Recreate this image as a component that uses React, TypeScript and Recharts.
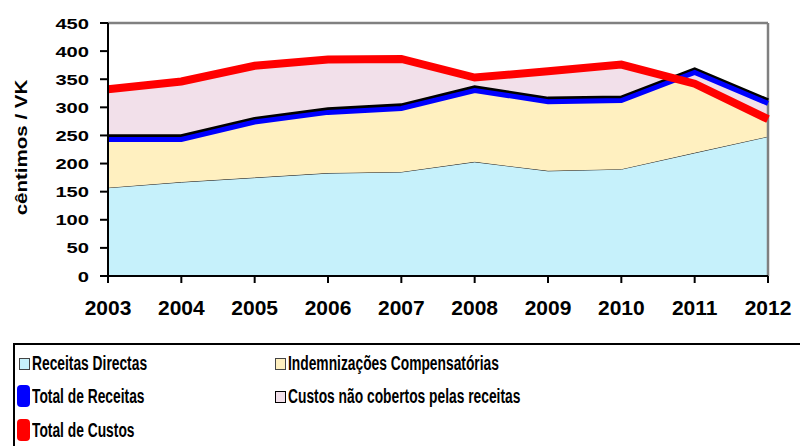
import { ComposedChart, Area, Line, XAxis, YAxis, ReferenceLine } from "recharts";

const years = [2003, 2004, 2005, 2006, 2007, 2008, 2009, 2010, 2011, 2012];
const receitasDirectas = [157, 167, 175, 183, 185, 203, 187, 190, 219, 248];
const totalReceitas = [243, 243, 274, 291, 298, 330, 310, 312, 362, 307];
const totalCustos = [332, 346, 374, 385, 386, 353, 364, 376, 342, 279];
const yTicks = [0, 50, 100, 150, 200, 250, 300, 350, 400, 450];

const FONT = "'Liberation Sans', Arial, sans-serif";

const data = years.map((year, i) => ({
  year,
  directas: receitasDirectas[i],
  indemnizacoes: totalReceitas[i] - receitasDirectas[i],
  naoCobertos: totalCustos[i] - totalReceitas[i],
  totalReceitas: totalReceitas[i],
  totalCustos: totalCustos[i],
}));

const YTick = ({ x, y, payload }: any) => (
  <g transform={`translate(${x},${y})`}>
    <text
      textAnchor="end"
      dy="0.36em"
      transform="scale(1.3,1)"
      fontSize={15.5}
      fontWeight="bold"
      fontFamily={FONT}
      fill="#000"
    >
      {payload.value}
    </text>
  </g>
);

const YTitle = (props: any) => {
  const vb = props.viewBox || { x: 0, y: 23, width: 108, height: 253 };
  const cx = vb.x + 26.5;
  const cy = vb.y + vb.height / 2 - 2;
  return (
    <text
      transform={`translate(${cx},${cy}) rotate(-90) scale(1.26,1)`}
      textAnchor="middle"
      fontSize={16.3}
      fontWeight="bold"
      fontFamily={FONT}
      fill="#000"
    >
      cêntimos / VK
    </text>
  );
};

const legendText = {
  fontFamily: FONT,
  fontWeight: "bold" as const,
  fontSize: 20,
  lineHeight: "20px",
  color: "#000",
  display: "inline-block",
  whiteSpace: "nowrap" as const,
  transform: "scaleX(0.69)",
  transformOrigin: "left center",
};

function Swatch({ fill, border }: { fill: string; border: string }) {
  return <div style={{ position: "absolute", width: 9, height: 10, top: 5, left: 4, background: fill, border: `1.5px solid ${border}` }} />;
}

function Pill({ color }: { color: string }) {
  return <div style={{ position: "absolute", width: 13, height: 22, top: -1, left: 2, background: color, borderRadius: 4 }} />;
}

function Item({ left, top, icon, label }: { left: number; top: number; icon: any; label: string }) {
  return (
    <div style={{ position: "absolute", left, top, height: 20 }}>
      {icon}
      <span style={{ ...legendText, position: "absolute", left: 17, top: 0 }}>{label}</span>
    </div>
  );
}

export default function App() {
  return (
    <div style={{ position: "absolute", left: 0, top: 0, width: 800, height: 446, overflow: "hidden", background: "#fff" }}>
      <style>{`.shift-up { transform: translateY(-2.6px); }`}</style>
      <ComposedChart width={800} height={321} data={data} margin={{ top: 23, right: 32, bottom: 0, left: 0 }}>
        <XAxis
          dataKey="year"
          type="number"
          domain={[2003, 2012]}
          ticks={years}
          interval={0}
          tickSize={7}
          tickMargin={17}
          height={45}
          axisLine={{ stroke: "#000", strokeWidth: 2 }}
          tickLine={{ stroke: "#000", strokeWidth: 2 }}
          tick={{ fontSize: 21, fontWeight: "bold", fontFamily: FONT, fill: "#000" }}
        />
        <YAxis
          domain={[0, 450]}
          ticks={yTicks}
          interval={0}
          width={108}
          tickSize={8}
          tickMargin={11}
          axisLine={{ stroke: "#000", strokeWidth: 2 }}
          tickLine={{ stroke: "#000", strokeWidth: 2 }}
          tick={<YTick />}
          label={{ content: <YTitle /> }}
        />
        <Area type="linear" dataKey="directas" stackId="s" fill="#c6f1fb" fillOpacity={1} stroke="#222" strokeWidth={1} isAnimationActive={false} dot={false} activeDot={false} />
        <Area type="linear" dataKey="indemnizacoes" stackId="s" fill="#fff0c0" fillOpacity={1} stroke="none" isAnimationActive={false} dot={false} activeDot={false} />
        <Area type="linear" dataKey="naoCobertos" stackId="s" fill="#f2e0ea" fillOpacity={1} stroke="none" isAnimationActive={false} dot={false} activeDot={false} />
        <ReferenceLine y={450} stroke="#808080" strokeWidth={2.5} />
        <ReferenceLine x={2012} stroke="#808080" strokeWidth={2.5} />
        <Line type="linear" dataKey="totalReceitas" className="shift-up" stroke="#000" strokeWidth={5} dot={false} activeDot={false} isAnimationActive={false} legendType="none" />
        <Line type="linear" dataKey="totalReceitas" stroke="#0000ff" strokeWidth={5} dot={false} activeDot={false} isAnimationActive={false} />
        <Line type="linear" dataKey="totalCustos" stroke="#ff0000" strokeWidth={8} dot={false} activeDot={false} isAnimationActive={false} />
      </ComposedChart>
      <div style={{ position: "absolute", left: 13, top: 343, width: 820, height: 140, border: "2px solid #000", boxSizing: "border-box" }}>
        <Item left={0} top={8} icon={<Swatch fill="#c6f1fb" border="#444" />} label="Receitas Directas" />
        <Item left={256} top={8} icon={<Swatch fill="#fff0c0" border="#444" />} label="Indemnizações Compensatórias" />
        <Item left={0} top={41} icon={<Pill color="#0000ff" />} label="Total de Receitas" />
        <Item left={256} top={41} icon={<Swatch fill="#f2e0ea" border="#000" />} label="Custos não cobertos pelas receitas" />
        <Item left={0} top={75} icon={<Pill color="#ff0000" />} label="Total de Custos" />
      </div>
    </div>
  );
}
